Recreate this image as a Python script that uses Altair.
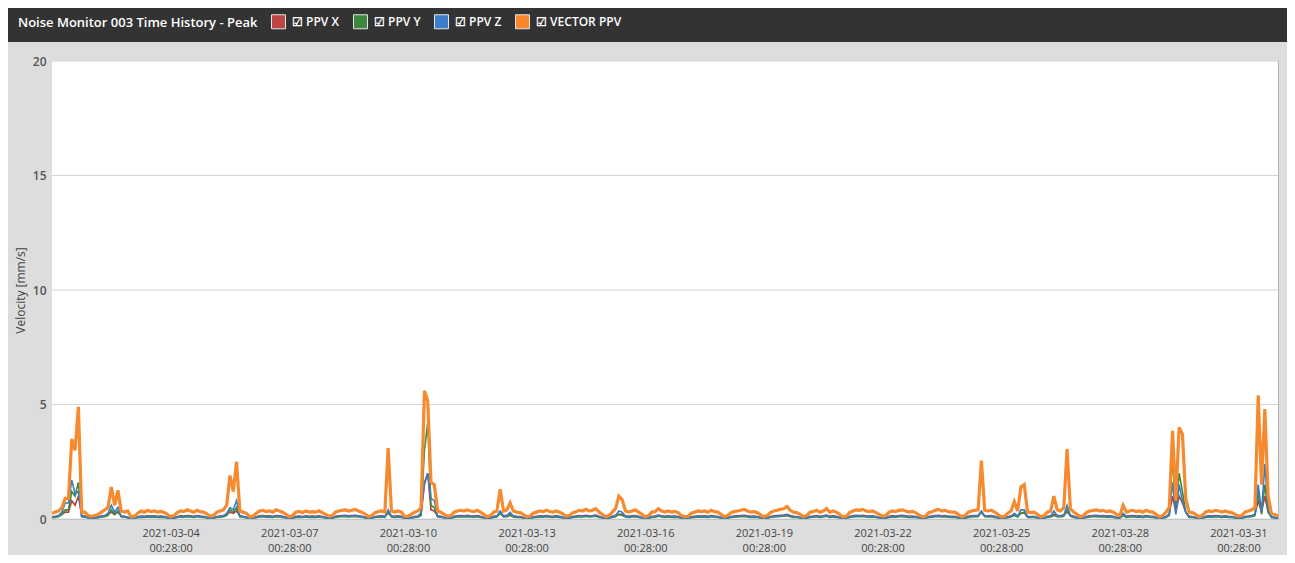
import altair as alt
import pandas as pd

chart_title = "Noise Monitor 003 Time History - Peak"
y_title = "Velocity [mm/s]"
series_names = ["PPV X", "PPV Y", "PPV Z", "VECTOR PPV"]
line_colors = ["#b3403c", "#3d8a3b", "#3a7cc2", "#f68a2e"]
box_colors = ["#bf4543", "#3e873f", "#3b7fcb", "#f7872a"]
y_ticks = [0, 5, 10, 15, 20]
x_tick_days = [4, 7, 10, 13, 16, 19, 22, 25, 28, 31]  # March, at 00:28
start_time = "2021-03-01 00:28:00"
step = "2h"

# one row per day (12 readings, every 2 h from 00:28), last entry = 2021-04-01 00:28
vector_ppv = [
    [0.25, 0.3, 0.35, 0.5, 0.9, 0.9, 3.5, 3.0, 4.9, 0.3, 0.3, 0.15],
    [0.12, 0.15, 0.2, 0.3, 0.4, 0.5, 1.4, 0.6, 1.25, 0.35, 0.3, 0.35],
    [0.1, 0.12, 0.25, 0.35, 0.3, 0.38, 0.32, 0.35, 0.3, 0.33, 0.28, 0.2],
    [0.1, 0.15, 0.28, 0.35, 0.32, 0.4, 0.35, 0.3, 0.38, 0.32, 0.3, 0.22],
    [0.12, 0.15, 0.3, 0.35, 0.4, 0.6, 1.9, 1.2, 2.5, 0.35, 0.3, 0.25],
    [0.1, 0.12, 0.25, 0.35, 0.38, 0.32, 0.35, 0.3, 0.4, 0.35, 0.3, 0.2],
    [0.1, 0.15, 0.3, 0.33, 0.28, 0.35, 0.3, 0.32, 0.3, 0.36, 0.28, 0.2],
    [0.12, 0.15, 0.3, 0.35, 0.38, 0.4, 0.35, 0.38, 0.42, 0.35, 0.3, 0.22],
    [0.1, 0.15, 0.28, 0.32, 0.35, 0.3, 3.1, 0.35, 0.3, 0.35, 0.3, 0.12],
    [0.12, 0.2, 0.3, 0.35, 0.5, 5.6, 5.15, 1.6, 1.5, 0.35, 0.3, 0.2],
    [0.12, 0.15, 0.3, 0.35, 0.38, 0.35, 0.4, 0.35, 0.32, 0.38, 0.3, 0.2],
    [0.1, 0.15, 0.3, 0.35, 1.3, 0.35, 0.4, 0.7, 0.35, 0.3, 0.28, 0.2],
    [0.1, 0.12, 0.25, 0.3, 0.35, 0.32, 0.38, 0.33, 0.3, 0.35, 0.3, 0.22],
    [0.12, 0.15, 0.28, 0.32, 0.38, 0.35, 0.42, 0.35, 0.38, 0.45, 0.3, 0.2],
    [0.1, 0.15, 0.3, 0.45, 1.0, 0.85, 0.35, 0.3, 0.35, 0.4, 0.3, 0.2],
    [0.1, 0.15, 0.3, 0.32, 0.45, 0.35, 0.3, 0.35, 0.3, 0.33, 0.28, 0.15],
    [0.1, 0.12, 0.25, 0.3, 0.35, 0.32, 0.35, 0.3, 0.38, 0.32, 0.3, 0.2],
    [0.1, 0.15, 0.28, 0.32, 0.35, 0.38, 0.42, 0.35, 0.3, 0.32, 0.28, 0.18],
    [0.1, 0.15, 0.28, 0.35, 0.38, 0.42, 0.45, 0.55, 0.38, 0.3, 0.28, 0.2],
    [0.1, 0.15, 0.3, 0.32, 0.38, 0.3, 0.35, 0.45, 0.3, 0.35, 0.3, 0.2],
    [0.1, 0.12, 0.28, 0.35, 0.4, 0.38, 0.42, 0.35, 0.32, 0.35, 0.28, 0.2],
    [0.12, 0.15, 0.3, 0.35, 0.32, 0.38, 0.4, 0.35, 0.3, 0.33, 0.28, 0.18],
    [0.1, 0.12, 0.28, 0.32, 0.38, 0.42, 0.35, 0.38, 0.32, 0.3, 0.3, 0.2],
    [0.1, 0.15, 0.3, 0.35, 0.38, 0.4, 2.55, 0.38, 0.35, 0.38, 0.3, 0.2],
    [0.1, 0.12, 0.25, 0.35, 0.75, 0.35, 1.4, 1.5, 0.3, 0.28, 0.3, 0.2],
    [0.1, 0.15, 0.3, 0.35, 1.0, 0.4, 0.35, 0.5, 3.05, 0.45, 0.3, 0.2],
    [0.1, 0.15, 0.3, 0.35, 0.38, 0.4, 0.35, 0.38, 0.32, 0.35, 0.3, 0.2],
    [0.15, 0.6, 0.3, 0.35, 0.38, 0.32, 0.35, 0.3, 0.38, 0.32, 0.3, 0.2],
    [0.1, 0.15, 0.3, 0.5, 3.85, 0.8, 4.0, 3.7, 0.9, 0.3, 0.28, 0.2],
    [0.1, 0.15, 0.3, 0.35, 0.32, 0.38, 0.35, 0.3, 0.35, 0.3, 0.28, 0.2],
    [0.12, 0.15, 0.3, 0.35, 0.4, 0.5, 5.4, 1.5, 4.8, 1.0, 0.25, 0.2],
    [0.12],
]

ppv_x = [
    [0.1, 0.12, 0.15, 0.2, 0.3, 0.3, 0.8, 0.6, 1.0, 0.15, 0.13, 0.07],
    [0.05, 0.06, 0.1, 0.13, 0.15, 0.2, 0.3, 0.2, 0.3, 0.14, 0.12, 0.08],
    [0.04, 0.05, 0.1, 0.13, 0.12, 0.14, 0.13, 0.14, 0.12, 0.13, 0.11, 0.07],
    [0.04, 0.06, 0.11, 0.14, 0.13, 0.15, 0.14, 0.12, 0.15, 0.13, 0.12, 0.08],
    [0.05, 0.06, 0.11, 0.13, 0.15, 0.2, 0.3, 0.25, 0.35, 0.14, 0.12, 0.08],
    [0.04, 0.05, 0.1, 0.14, 0.15, 0.13, 0.14, 0.12, 0.15, 0.14, 0.12, 0.07],
    [0.04, 0.06, 0.12, 0.13, 0.11, 0.14, 0.12, 0.13, 0.12, 0.14, 0.11, 0.07],
    [0.05, 0.06, 0.12, 0.14, 0.15, 0.16, 0.14, 0.15, 0.16, 0.14, 0.12, 0.08],
    [0.04, 0.06, 0.11, 0.13, 0.14, 0.12, 0.25, 0.14, 0.12, 0.14, 0.12, 0.05],
    [0.05, 0.07, 0.11, 0.13, 0.2, 1.5, 2.0, 0.4, 0.35, 0.14, 0.12, 0.07],
    [0.05, 0.06, 0.12, 0.14, 0.15, 0.14, 0.16, 0.14, 0.13, 0.15, 0.12, 0.07],
    [0.04, 0.06, 0.12, 0.14, 0.25, 0.14, 0.16, 0.2, 0.14, 0.12, 0.11, 0.07],
    [0.04, 0.05, 0.1, 0.12, 0.14, 0.13, 0.15, 0.13, 0.12, 0.14, 0.12, 0.08],
    [0.05, 0.06, 0.11, 0.13, 0.15, 0.14, 0.16, 0.14, 0.15, 0.17, 0.12, 0.07],
    [0.04, 0.06, 0.12, 0.16, 0.2, 0.2, 0.14, 0.12, 0.14, 0.15, 0.12, 0.07],
    [0.04, 0.06, 0.12, 0.13, 0.17, 0.14, 0.12, 0.14, 0.12, 0.13, 0.11, 0.06],
    [0.04, 0.05, 0.1, 0.12, 0.14, 0.13, 0.14, 0.12, 0.15, 0.13, 0.12, 0.07],
    [0.04, 0.06, 0.11, 0.13, 0.14, 0.15, 0.16, 0.14, 0.12, 0.13, 0.11, 0.07],
    [0.04, 0.06, 0.11, 0.14, 0.15, 0.16, 0.17, 0.2, 0.15, 0.12, 0.11, 0.07],
    [0.04, 0.06, 0.12, 0.13, 0.15, 0.12, 0.14, 0.17, 0.12, 0.14, 0.12, 0.07],
    [0.04, 0.05, 0.11, 0.14, 0.16, 0.15, 0.16, 0.14, 0.13, 0.14, 0.11, 0.07],
    [0.05, 0.06, 0.12, 0.14, 0.13, 0.15, 0.16, 0.14, 0.12, 0.13, 0.11, 0.07],
    [0.04, 0.05, 0.11, 0.13, 0.15, 0.16, 0.14, 0.15, 0.13, 0.12, 0.12, 0.07],
    [0.04, 0.06, 0.12, 0.14, 0.15, 0.16, 0.3, 0.15, 0.14, 0.15, 0.12, 0.07],
    [0.04, 0.05, 0.1, 0.14, 0.2, 0.14, 0.25, 0.25, 0.12, 0.11, 0.12, 0.07],
    [0.04, 0.06, 0.12, 0.14, 0.2, 0.16, 0.14, 0.18, 0.3, 0.17, 0.12, 0.07],
    [0.04, 0.06, 0.12, 0.14, 0.15, 0.16, 0.14, 0.15, 0.13, 0.14, 0.12, 0.07],
    [0.06, 0.2, 0.12, 0.14, 0.15, 0.13, 0.14, 0.12, 0.15, 0.13, 0.12, 0.07],
    [0.05, 0.06, 0.11, 0.2, 1.0, 0.3, 1.0, 0.7, 0.3, 0.13, 0.11, 0.07],
    [0.04, 0.06, 0.12, 0.14, 0.13, 0.15, 0.14, 0.12, 0.14, 0.12, 0.11, 0.07],
    [0.05, 0.06, 0.11, 0.13, 0.15, 0.2, 0.8, 0.3, 1.0, 0.3, 0.11, 0.07],
    [0.05],
]

ppv_y = [
    [0.06, 0.07, 0.1, 0.2, 0.4, 0.4, 1.2, 1.0, 1.6, 0.1, 0.08, 0.05],
    [0.03, 0.04, 0.06, 0.08, 0.1, 0.15, 0.4, 0.2, 0.35, 0.09, 0.08, 0.05],
    [0.03, 0.04, 0.06, 0.08, 0.07, 0.09, 0.08, 0.09, 0.07, 0.08, 0.07, 0.05],
    [0.03, 0.04, 0.07, 0.09, 0.08, 0.1, 0.09, 0.07, 0.1, 0.08, 0.07, 0.05],
    [0.03, 0.04, 0.07, 0.08, 0.1, 0.15, 0.4, 0.3, 0.5, 0.09, 0.08, 0.05],
    [0.03, 0.04, 0.06, 0.09, 0.1, 0.08, 0.09, 0.07, 0.1, 0.09, 0.07, 0.05],
    [0.03, 0.04, 0.07, 0.08, 0.07, 0.09, 0.07, 0.08, 0.07, 0.09, 0.07, 0.05],
    [0.03, 0.04, 0.07, 0.09, 0.1, 0.1, 0.09, 0.1, 0.11, 0.09, 0.08, 0.05],
    [0.03, 0.04, 0.07, 0.08, 0.09, 0.07, 0.3, 0.09, 0.07, 0.09, 0.07, 0.04],
    [0.03, 0.05, 0.07, 0.08, 0.15, 3.0, 4.2, 0.6, 0.5, 0.09, 0.08, 0.05],
    [0.03, 0.04, 0.07, 0.09, 0.1, 0.09, 0.1, 0.09, 0.08, 0.1, 0.07, 0.05],
    [0.03, 0.04, 0.07, 0.09, 0.25, 0.09, 0.1, 0.15, 0.09, 0.07, 0.07, 0.05],
    [0.03, 0.04, 0.06, 0.07, 0.09, 0.08, 0.1, 0.08, 0.07, 0.09, 0.07, 0.05],
    [0.03, 0.04, 0.07, 0.08, 0.1, 0.09, 0.11, 0.09, 0.1, 0.12, 0.07, 0.05],
    [0.03, 0.04, 0.07, 0.1, 0.2, 0.15, 0.09, 0.07, 0.09, 0.1, 0.07, 0.05],
    [0.03, 0.04, 0.07, 0.08, 0.12, 0.09, 0.07, 0.09, 0.07, 0.08, 0.07, 0.04],
    [0.03, 0.04, 0.06, 0.07, 0.09, 0.08, 0.09, 0.07, 0.1, 0.08, 0.07, 0.05],
    [0.03, 0.04, 0.07, 0.08, 0.09, 0.1, 0.11, 0.09, 0.07, 0.08, 0.07, 0.05],
    [0.03, 0.04, 0.07, 0.09, 0.1, 0.11, 0.12, 0.14, 0.1, 0.07, 0.07, 0.05],
    [0.03, 0.04, 0.07, 0.08, 0.1, 0.07, 0.09, 0.12, 0.07, 0.09, 0.07, 0.05],
    [0.03, 0.04, 0.07, 0.09, 0.1, 0.1, 0.11, 0.09, 0.08, 0.09, 0.07, 0.05],
    [0.03, 0.04, 0.07, 0.09, 0.08, 0.1, 0.1, 0.09, 0.07, 0.08, 0.07, 0.05],
    [0.03, 0.04, 0.07, 0.08, 0.1, 0.11, 0.09, 0.1, 0.08, 0.07, 0.07, 0.05],
    [0.03, 0.04, 0.07, 0.09, 0.1, 0.1, 0.3, 0.1, 0.09, 0.1, 0.07, 0.05],
    [0.03, 0.04, 0.06, 0.09, 0.15, 0.09, 0.25, 0.3, 0.07, 0.07, 0.07, 0.05],
    [0.03, 0.04, 0.07, 0.09, 0.15, 0.1, 0.09, 0.12, 0.4, 0.12, 0.07, 0.05],
    [0.03, 0.04, 0.07, 0.09, 0.1, 0.1, 0.09, 0.1, 0.08, 0.09, 0.07, 0.05],
    [0.04, 0.15, 0.07, 0.09, 0.1, 0.08, 0.09, 0.07, 0.1, 0.08, 0.07, 0.05],
    [0.03, 0.04, 0.07, 0.15, 2.7, 0.3, 2.0, 1.2, 0.3, 0.07, 0.07, 0.05],
    [0.03, 0.04, 0.07, 0.09, 0.08, 0.1, 0.09, 0.07, 0.09, 0.07, 0.07, 0.05],
    [0.03, 0.04, 0.07, 0.09, 0.1, 0.15, 1.2, 0.2, 1.5, 0.3, 0.07, 0.05],
    [0.03],
]

ppv_z = [
    [0.08, 0.1, 0.15, 0.3, 0.7, 0.7, 1.7, 1.1, 1.2, 0.12, 0.1, 0.06],
    [0.04, 0.05, 0.08, 0.11, 0.15, 0.25, 0.6, 0.3, 0.5, 0.12, 0.1, 0.07],
    [0.04, 0.05, 0.08, 0.11, 0.1, 0.12, 0.11, 0.12, 0.1, 0.11, 0.1, 0.06],
    [0.04, 0.05, 0.09, 0.12, 0.11, 0.13, 0.12, 0.1, 0.13, 0.11, 0.1, 0.07],
    [0.04, 0.05, 0.09, 0.11, 0.13, 0.25, 0.5, 0.4, 0.8, 0.12, 0.1, 0.07],
    [0.04, 0.05, 0.08, 0.12, 0.13, 0.11, 0.12, 0.1, 0.13, 0.12, 0.1, 0.06],
    [0.04, 0.05, 0.1, 0.11, 0.09, 0.12, 0.1, 0.11, 0.1, 0.12, 0.09, 0.06],
    [0.04, 0.05, 0.1, 0.12, 0.13, 0.14, 0.12, 0.13, 0.14, 0.12, 0.1, 0.07],
    [0.04, 0.05, 0.09, 0.11, 0.12, 0.1, 0.4, 0.12, 0.1, 0.12, 0.1, 0.05],
    [0.04, 0.06, 0.08, 0.11, 0.3, 1.6, 2.0, 0.9, 0.8, 0.12, 0.1, 0.06],
    [0.04, 0.05, 0.1, 0.12, 0.13, 0.12, 0.14, 0.12, 0.11, 0.13, 0.1, 0.06],
    [0.04, 0.05, 0.1, 0.12, 0.35, 0.12, 0.14, 0.3, 0.12, 0.1, 0.09, 0.06],
    [0.04, 0.05, 0.08, 0.1, 0.12, 0.11, 0.13, 0.11, 0.1, 0.12, 0.1, 0.07],
    [0.04, 0.05, 0.09, 0.11, 0.13, 0.12, 0.14, 0.12, 0.13, 0.15, 0.1, 0.06],
    [0.04, 0.05, 0.1, 0.14, 0.35, 0.3, 0.12, 0.1, 0.12, 0.13, 0.1, 0.06],
    [0.04, 0.05, 0.1, 0.11, 0.15, 0.12, 0.1, 0.12, 0.1, 0.11, 0.09, 0.05],
    [0.04, 0.05, 0.08, 0.1, 0.12, 0.11, 0.12, 0.1, 0.13, 0.11, 0.1, 0.06],
    [0.04, 0.05, 0.09, 0.11, 0.12, 0.13, 0.14, 0.12, 0.1, 0.11, 0.09, 0.06],
    [0.04, 0.05, 0.09, 0.12, 0.13, 0.14, 0.15, 0.18, 0.13, 0.1, 0.09, 0.06],
    [0.04, 0.05, 0.1, 0.11, 0.13, 0.1, 0.12, 0.15, 0.1, 0.12, 0.1, 0.06],
    [0.04, 0.05, 0.09, 0.12, 0.14, 0.13, 0.14, 0.12, 0.11, 0.12, 0.09, 0.06],
    [0.04, 0.05, 0.1, 0.12, 0.11, 0.13, 0.14, 0.12, 0.1, 0.11, 0.09, 0.06],
    [0.04, 0.05, 0.09, 0.11, 0.13, 0.14, 0.12, 0.13, 0.11, 0.1, 0.1, 0.06],
    [0.04, 0.05, 0.1, 0.12, 0.13, 0.14, 0.35, 0.13, 0.12, 0.13, 0.1, 0.06],
    [0.04, 0.05, 0.08, 0.12, 0.25, 0.12, 0.4, 0.4, 0.1, 0.09, 0.1, 0.06],
    [0.04, 0.05, 0.1, 0.12, 0.35, 0.14, 0.12, 0.16, 0.6, 0.15, 0.1, 0.06],
    [0.04, 0.05, 0.1, 0.12, 0.13, 0.14, 0.12, 0.13, 0.11, 0.12, 0.1, 0.06],
    [0.05, 0.25, 0.1, 0.12, 0.13, 0.11, 0.12, 0.1, 0.13, 0.11, 0.1, 0.06],
    [0.04, 0.05, 0.09, 0.2, 1.6, 0.2, 1.5, 0.8, 0.3, 0.11, 0.09, 0.06],
    [0.04, 0.05, 0.1, 0.12, 0.11, 0.13, 0.12, 0.1, 0.12, 0.1, 0.09, 0.06],
    [0.04, 0.05, 0.09, 0.11, 0.13, 0.2, 1.5, 0.3, 2.4, 0.4, 0.09, 0.06],
    [0.04],
]

series_values = {"PPV X": ppv_x, "PPV Y": ppv_y, "PPV Z": ppv_z, "VECTOR PPV": vector_ppv}

n_points = sum(len(day) for day in vector_ppv)
times = pd.date_range(start_time, periods=n_points, freq=step, tz="UTC")
time_str = [t.strftime("%Y-%m-%dT%H:%M:%SZ") for t in times]

records = []
for name in series_names:
    flat = [v for day in series_values[name] for v in day]
    for t, v in zip(time_str, flat):
        records.append({"t": t, "series": name, "v": v})
df = pd.DataFrame(records)

x_start = alt.DateTime(year=2021, month=3, date=1, hours=0, minutes=28, utc=True)
x_end = alt.DateTime(year=2021, month=4, date=1, hours=0, minutes=28, utc=True)
x_values = [alt.DateTime(year=2021, month=3, date=d, hours=0, minutes=28, utc=True) for d in x_tick_days]

x_enc = alt.X(
    "t:T",
    scale=alt.Scale(type="utc", domain=[x_start, x_end]),
    axis=alt.Axis(
        values=x_values,
        labelExpr="[utcFormat(datum.value, '%Y-%m-%d'), utcFormat(datum.value, '%H:%M:%S')]",
        title=None, grid=False, domain=False, ticks=False, tickSize=0,
        labelPadding=8, labelFontSize=11, labelColor="#444444", labelLineHeight=15,
        labelOverlap=False, labelFont="Open Sans",
    ),
)
y_scale = alt.Scale(domain=[0, 20], nice=False)
y_axis = alt.Axis(
    values=y_ticks, title=y_title, grid=False,
    domain=False, ticks=False, tickSize=0, labelPadding=6,
    labelFontSize=12, labelColor="#555555", labelFontWeight=600, labelFont="Open Sans",
    titleFont="Open Sans", titleFontSize=12, titleFontWeight="normal", titleColor="#444444",
    titleX=-32, titleY=229, titleBaseline="middle", titleAngle=270,
)
y_enc = alt.Y("v:Q", scale=y_scale, axis=y_axis)
# stroke domain comes from the data (alphabetical = series_names order), so the
# hidden stroke legend is not merged with the filled-box legend below
stroke_scale = alt.Scale(range=line_colors)

base = alt.Chart(df)

title_df = pd.DataFrame({"label": [chart_title]})
plot_bg = alt.Chart(title_df).mark_rect(color="white").encode(
    x=alt.value(0), x2=alt.value(1226), y=alt.value(0), y2=alt.value(458)
)
grid = alt.Chart(pd.DataFrame({"tick": y_ticks})).mark_rule(color="#d4d4d4", strokeWidth=1).encode(
    y=alt.Y("tick:Q", scale=y_scale, axis=y_axis)
)
header_bar = alt.Chart(title_df).mark_rect(color="#333333").encode(
    x=alt.value(-44), x2=alt.value(1235), y=alt.value(-53), y2=alt.value(-19)
)
header_text = alt.Chart(title_df).mark_text(
    align="left", baseline="middle", color="white", font="Open Sans", fontSize=13, fontWeight=600
).encode(x=alt.value(-34), y=alt.value(-38), text="label:N")

xyz_lines = base.transform_filter("datum.series != 'VECTOR PPV'").mark_line(strokeWidth=1.6).encode(
    x=x_enc, y=y_enc, stroke=alt.Stroke("series:N", scale=stroke_scale, legend=None)
)
vector_line = base.transform_filter("datum.series == 'VECTOR PPV'").mark_line(strokeWidth=3.2).encode(
    x=x_enc, y=y_enc, stroke=alt.Stroke("series:N", scale=stroke_scale, legend=None)
)

legend_layer = base.mark_square(size=0, opacity=1, filled=True).encode(
    x=x_enc, y=y_enc,
    fill=alt.Fill(
        "series:N",
        scale=alt.Scale(domain=series_names, range=box_colors),
        legend=alt.Legend(
            orient="none", legendX=219, legendY=-47, direction="horizontal", title=None,
            symbolType="square", symbolSize=196, symbolStrokeColor="#e6e6e6", symbolStrokeWidth=1,
            symbolOpacity=1, zindex=2,
            labelColor="white", labelFont="Open Sans", labelFontSize=12, labelFontWeight=600,
            labelOffset=6, columnPadding=8, labelExpr="'☑  ' + datum.label",
        ),
    ),
)

chart = alt.layer(plot_bg, grid, header_bar, header_text, xyz_lines, vector_line, legend_layer).properties(
    width=1226, height=458,
    padding={"left": 44, "top": 53, "right": 9, "bottom": 36},
    autosize=alt.AutoSizeParams(type="none"),
    background="#dddddd",
).configure_view(stroke="#b5b5b5", strokeWidth=1)

chart.save("out.html", embed_options={"renderer": "svg", "actions": False})
